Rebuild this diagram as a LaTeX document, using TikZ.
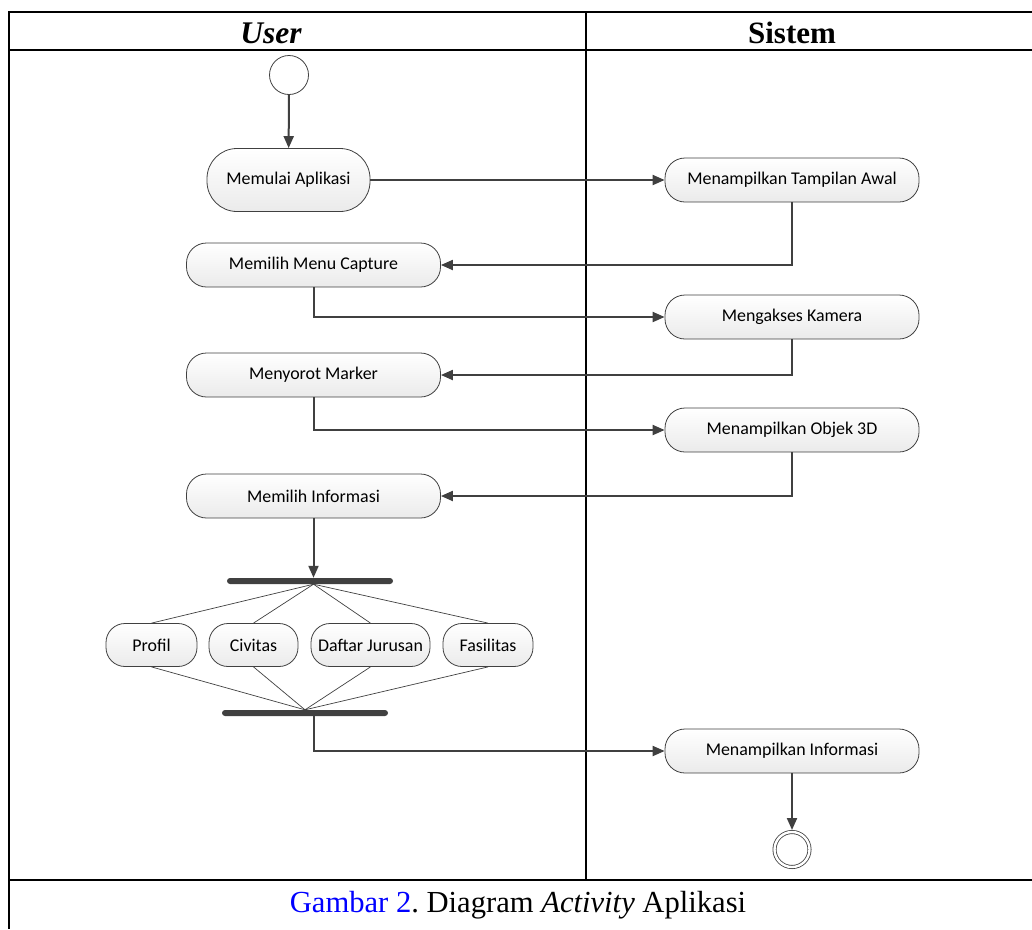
\documentclass[tikz,border=0pt]{standalone}
\usepackage{fontspec}
\setmainfont{Liberation Serif}
\newfontfamily\actfont{Carlito}
\usetikzlibrary{arrows.meta}
\definecolor{lineGray}{HTML}{404040}
\definecolor{capBlue}{HTML}{0000FF}
\frenchspacing

\begin{document}
\begin{tikzpicture}[x=1pt, y=-1pt,
    actStyle/.style={rectangle, draw=lineGray, line width=0.8pt, rounded corners=20pt, top color=white, bottom color=black!8, font=\actfont\fontsize{17.9}{20}\selectfont, text=black, inner sep=0pt, minimum width=254pt, minimum height=44pt},
    subStyle/.style={actStyle, rounded corners=19pt, minimum height=43pt},
    barStyle/.style={rectangle, fill=lineGray, rounded corners=3pt, inner sep=0pt, minimum height=6pt, minimum width=166pt},
    flow/.style={draw=lineGray, line width=2pt, -{Triangle[length=12pt,width=10pt]}},
    branch/.style={draw=lineGray, line width=0.7pt},
    frame/.style={line width=2pt}]
    \useasboundingbox (0,0) rectangle (1032,929);

    % Table
    \draw[frame] (9,12) -- (1032,12);
    \draw[frame] (9,50) -- (1032,50);
    \draw[frame] (9,880) -- (1032,880);
    \draw[frame] (9,11) -- (9,929);
    \draw[frame] (586,12) -- (586,880);
    \node[font=\fontsize{31.5}{36}\selectfont\bfseries\itshape, anchor=base] (userHead) at (271,43) {User};
    \node[font=\fontsize{31}{36}\selectfont\bfseries, anchor=base] (sistemHead) at (792,43) {Sistem};
    \node[font=\fontsize{30.6}{36}\selectfont, anchor=base] (caption) at (518,912) {\textcolor{capBlue}{Gambar 2}. Diagram \textit{Activity} Aplikasi};

    % Start
    \node[circle, draw=lineGray, line width=0.8pt, minimum size=39pt, inner sep=0pt] (start) at (289,75) {};

    % User
    \node[actStyle, minimum width=163pt, minimum height=63pt, rounded corners=30pt] (mulai) at (288.5,180) {Memulai Aplikasi};
    \node[actStyle] (capture) at (313.5,265) {Memilih Menu Capture};
    \node[actStyle] (marker) at (313.5,375) {Menyorot Marker};
    \node[actStyle] (pilihInfo) at (313.5,496) {Memilih Informasi};

    % Sistem
    \node[actStyle] (awal) at (792,180) {Menampilkan Tampilan Awal};
    \node[actStyle] (kamera) at (792,317) {Mengakses Kamera};
    \node[actStyle] (objek) at (792,430) {Menampilkan Objek 3D};
    \node[actStyle] (tampilInfo) at (792,751) {Menampilkan Informasi};

    % Fork / join
    \node[barStyle] (fork) at (310,581) {};
    \node[subStyle, minimum width=91pt]  (profil) at (151.5,645) {Profil};
    \node[subStyle, minimum width=89pt]  (civitas) at (253.5,645) {Civitas};
    \node[subStyle, minimum width=119pt] (jurusan) at (370.5,645) {Daftar Jurusan};
    \node[subStyle, minimum width=90pt]  (fasilitas) at (488,645) {Fasilitas};
    \node[barStyle] (join) at (305,713) {};

    % End
    \node[circle, draw=lineGray, line width=0.8pt, double, double distance=2.4pt, minimum size=35pt, inner sep=0pt, outer sep=2pt] (finalNode) at (792,849.5) {};

    % Edges
    \draw[flow] (start) -- (mulai);
    \draw[flow] (mulai) -- (awal);
    \draw[flow] (awal.south) |- (capture.east);
    \draw[flow] (capture.south) |- (kamera.west);
    \draw[flow] (kamera.south) |- (marker.east);
    \draw[flow] (marker.south) |- (objek.west);
    \draw[flow] (objek.south) |- (pilihInfo.east);
    \draw[flow] (pilihInfo.south) -- (pilihInfo.south |- fork.north);

    \draw[branch] (pilihInfo.south |- fork.south) -- (profil.north);
    \draw[branch] (pilihInfo.south |- fork.south) -- (civitas.north);
    \draw[branch] (pilihInfo.south |- fork.south) -- (jurusan.north);
    \draw[branch] (pilihInfo.south |- fork.south) -- (fasilitas.north);

    \draw[branch] (profil.south) -- (join.north);
    \draw[branch] (civitas.south) -- (join.north);
    \draw[branch] (jurusan.south) -- (join.north);
    \draw[branch] (fasilitas.south) -- (join.north);

    \draw[flow] (pilihInfo.south |- join.south) |- (tampilInfo.west);
    \draw[flow] (tampilInfo) -- (finalNode);
\end{tikzpicture}
\end{document}
